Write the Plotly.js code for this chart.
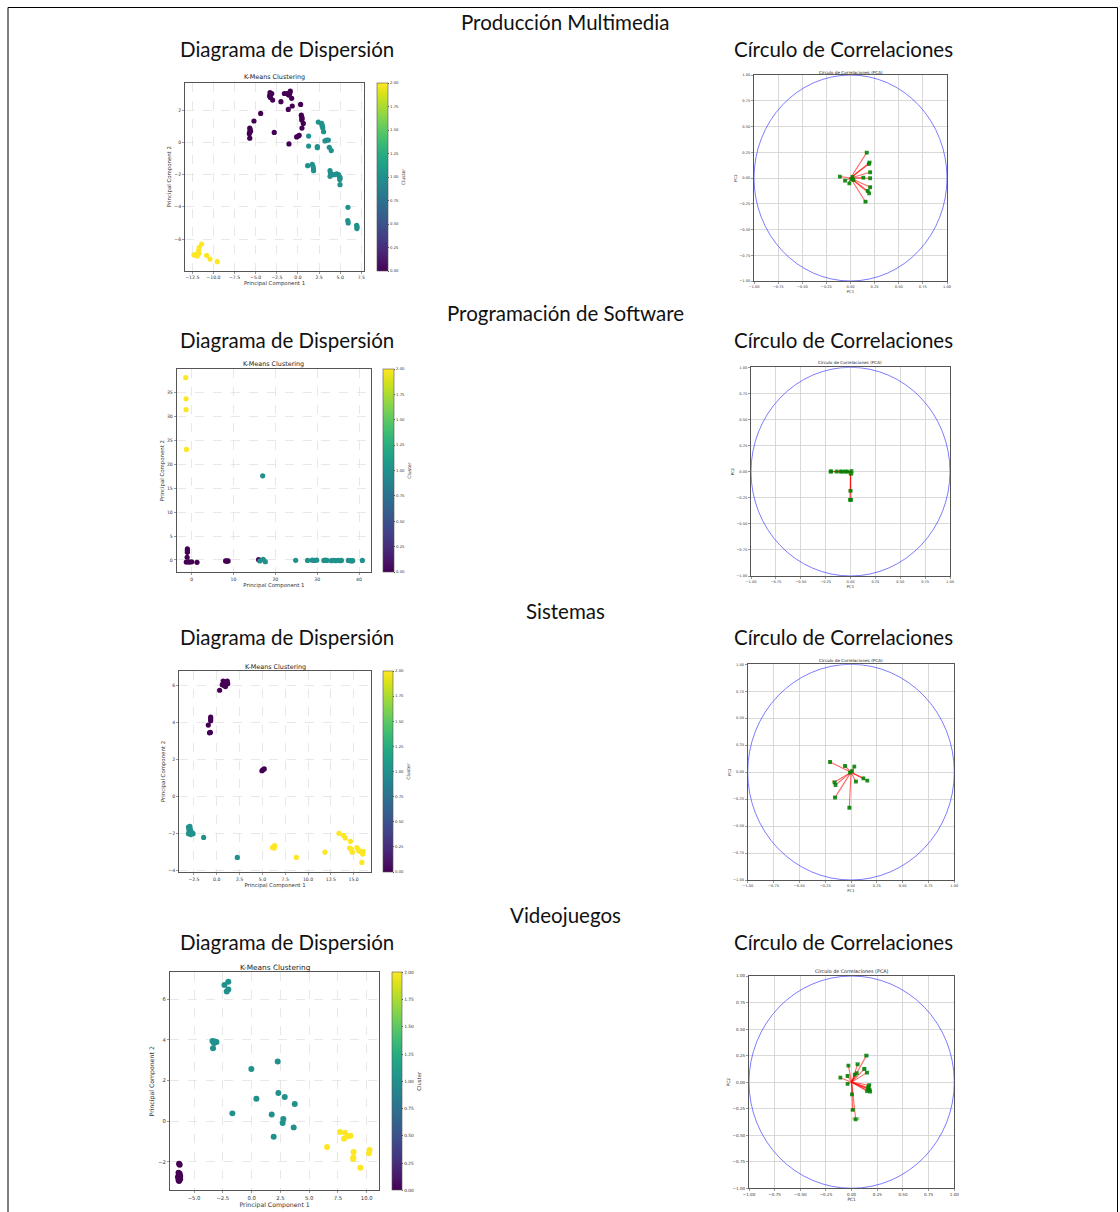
<!DOCTYPE html>
<html><head><meta charset="utf-8">
<script src="https://cdn.plot.ly/plotly-3.0.1.min.js"></script>
<style>html,body{margin:0;padding:0;background:#fff}#chart{width:1120px;height:1212px}</style>
</head><body><div id="chart"></div>
<script>
// ---------- DATA ----------
// Producción Multimedia - scatter (PC1, PC2, cluster)
const pm_x = [-3.3,-3.35,-3.2,-3.25,-3.1,-2.99,-2.01,-1.6,-1.3,-1.0,-0.9,-0.95,-1.1,-0.74,-0.67,-1.14,-4.41,-5.2,-5.7,-5.65,-5.7,-5.75,-5.6,-5.7,-2.8,-1.06,0.32,0.4,0.45,0.5,0.45,0.64,0.48,-0.15,0.05,0.15,
  2.41,2.8,2.85,2.9,2.95,3.04,1.27,3.2,3.4,3.6,3.71,3.95,1.27,2.3,2.3,1.15,1.7,1.8,1.85,1.85,3.8,3.85,3.8,4.0,4.3,4.6,4.8,4.9,5.0,4.95,4.98,5.92,5.9,5.95,6.95,7.0,6.98,
  -11.4,-11.67,-12.3,-12.1,-11.9,-11.7,-11.75,-10.8,-10.4,-9.54];
const pm_y = [3.1,2.9,3.0,2.8,3.05,2.64,2.54,3.05,3.05,3.0,3.2,3.1,2.95,2.75,2.27,2.06,1.81,1.34,0.9,0.8,0.65,0.55,0.7,0.27,0.63,-0.09,2.37,1.7,1.6,1.5,1.4,1.19,0.9,0.35,0.4,0.45,
  1.27,1.2,1.1,1.0,0.9,0.67,0.4,0.1,0.15,0.15,-0.3,-0.5,-0.22,-0.25,-0.32,-1.44,-1.35,-1.5,-1.65,-1.75,-1.75,-1.9,-2.1,-2.0,-2.0,-1.95,-2.0,-2.1,-2.2,-2.3,-2.62,-4.03,-4.85,-5.0,-5.15,-5.25,-5.35,
  -6.31,-6.52,-7.0,-6.95,-7.05,-6.9,-6.7,-7.02,-7.25,-7.41];
const pm_c = [0,0,0,0,0,0,0,0,0,0,0,0,0,0,0,0,0,0,0,0,0,0,0,0,0,0,0,0,0,0,0,0,0,0,0,0,
  1,1,1,1,1,1,1,1,1,1,1,1,1,1,1,1,1,1,1,1,1,1,1,1,1,1,1,1,1,1,1,1,1,1,1,1,1,
  2,2,2,2,2,2,2,2,2,2];
// Producción Multimedia - correlation circle loadings
const pm_pc1 = [0.168,0.196,0.19,0.203,0.133,0.203,0.203,0.179,0.193,0.155,-0.11,-0.057,-0.012,0.03,0.02,0.01];
const pm_pc2 = [0.246,0.149,0.136,0.055,0.003,-0.003,-0.09,-0.126,-0.149,-0.23,0.013,-0.026,-0.052,-0.02,0.01,-0.01];
const pm_lbl = ['12','14','','10','11','13','16','17','','19','1','6','8','3','',''];

// Programación de Software
const ps_x = [-1.04,-1.04,-1.04,-1.1,-1.3,-0.8,-0.5,0.0,1.27,8.1,8.4,8.7,16.0,
  16.97,16.3,17.1,17.6,24.86,27.7,28.8,29.3,29.9,31.6,32.0,32.35,33.4,33.9,34.4,35.0,35.5,35.8,37.45,37.9,38.25,38.5,40.8,
  -1.43,-1.35,-1.35,-1.27];
const ps_y = [2.3,1.95,1.6,0.56,-0.45,-0.4,-0.45,-0.4,-0.5,-0.2,-0.25,-0.2,0.05,
  17.57,-0.2,0.1,-0.35,-0.07,-0.1,-0.05,-0.1,-0.05,-0.1,-0.05,-0.1,-0.15,-0.1,-0.15,-0.1,-0.15,-0.1,-0.1,-0.15,-0.2,-0.15,-0.1,
  38.08,33.67,31.4,23.1];
const ps_c = [0,0,0,0,0,0,0,0,0,0,0,0,0,
  1,1,1,1,1,1,1,1,1,1,1,1,1,1,1,1,1,1,1,1,1,1,1,
  2,2,2,2];
const ps_pc1 = [-0.2,-0.195,-0.14,-0.1,-0.08,-0.05,-0.03,0.0,0.005,-0.005,0.01,0.005];
const ps_pc2 = [0.0,0.002,0.0,0.0,0.001,0.0,0.0,-0.185,-0.27,-0.27,0.005,-0.02];
const ps_lbl = ['3','','7','9','','13','','60','61','','1','112'];

// Sistemas
const si_x = [0.7,0.75,0.8,0.9,1.1,1.2,1.15,0.6,0.95,0.31,-0.93,-0.67,-0.67,-0.67,-0.8,-0.7,4.95,5.05,5.2,
  -3.1,-2.95,-3.05,-2.9,-3.1,-2.8,-2.7,-2.6,-2.85,-3.0,-1.44,2.25,
  6.1,6.25,6.35,6.3,8.72,11.86,13.39,13.87,14.09,14.64,14.55,14.75,14.85,15.35,15.5,15.6,15.9,16.0,15.95,16.05,15.9];
const si_y = [6.25,6.1,6.0,6.15,6.2,6.1,6.25,6.05,5.95,5.75,3.87,4.3,4.2,4.1,3.45,3.47,1.4,1.45,1.5,
  -1.65,-1.6,-1.8,-1.75,-2.0,-1.9,-1.95,-2.0,-2.05,-1.9,-2.2,-3.28,
  -2.75,-2.7,-2.65,-2.78,-3.28,-3.0,-1.98,-2.09,-2.23,-2.41,-2.78,-2.85,-3.0,-2.75,-2.85,-2.95,-2.97,-3.1,-3.05,-2.95,-3.55];
const si_c = [0,0,0,0,0,0,0,0,0,0,0,0,0,0,0,0,0,0,0,
  1,1,1,1,1,1,1,1,1,1,1,1,
  2,2,2,2,2,2,2,2,2,2,2,2,2,2,2,2,2,2,2,2,2];
const si_pc1 = [-0.203,-0.058,0.032,0.12,0.158,0.048,-0.16,-0.15,-0.155,-0.016,0.01,-0.01];
const si_pc2 = [0.094,0.057,0.051,-0.057,-0.079,-0.088,-0.094,-0.119,-0.236,-0.33,0.01,-0.005];
const si_lbl = ['31','58','4','2','1','21','50','','30','38','6',''];

// Videojuegos
const vj_x = [-6.3,-6.25,-6.35,-6.3,-6.4,-6.3,-6.2,-6.35,-6.25,-6.2,-6.3,
  -2.36,-2.02,-2.16,-2.02,-3.4,-3.3,-3.2,-3.05,-3.25,-3.35,2.27,-0.02,2.33,0.42,2.88,3.75,-1.67,1.75,2.76,2.7,3.66,1.92,
  6.56,7.68,8.12,8.03,8.4,8.6,8.87,8.84,8.84,9.45,10.2,10.25];
const vj_y = [-2.1,-2.15,-2.55,-2.65,-2.75,-2.8,-2.85,-2.9,-2.6,-2.7,-2.95,
  6.71,6.87,6.38,6.48,3.95,3.9,3.92,3.9,3.85,3.59,2.94,2.57,1.38,1.1,1.19,0.84,0.38,0.33,0.1,-0.09,-0.31,-0.77,
  -1.28,-0.54,-0.57,-0.87,-0.75,-0.72,-1.52,-1.79,-1.87,-2.3,-1.59,-1.42];
const vj_c = [0,0,0,0,0,0,0,0,0,0,0,
  1,1,1,1,1,1,1,1,1,1,1,1,1,1,1,1,1,1,1,1,1,1,
  2,2,2,2,2,2,2,2,2,2,2,2];
const vj_pc1 = [0.143,0.058,-0.032,-0.04,-0.11,0.123,0.149,0.03,0.05,0.17,0.165,0.15,0.18,0.003,0.01,0.039,-0.04,0.16,0.175];
const vj_pc2 = [0.25,0.168,0.155,0.058,0.042,0.124,0.09,0.07,0.085,-0.03,-0.065,-0.085,-0.09,-0.115,-0.262,-0.35,-0.017,-0.05,-0.07];
const vj_lbl = ['58','17','1','9','1','44','47','3','','20','','','','6','42','500','7','',''];

const sectionNames = ['Producción Multimedia','Programación de Software','Sistemas','Videojuegos'];
const leftHeading = 'Diagrama de Dispersión';
const rightHeading = 'Círculo de Correlaciones';
const scatterTitle = 'K-Means Clustering';
const circleTitle = 'Círculo de Correlaciones (PCA)';
const cbTicks = [0,0.25,0.5,0.75,1.0,1.25,1.5,1.75,2.0];

// ---------- LAYOUT GEOMETRY (pixels) ----------
const W=1120, H=1212;
const px = v => v/W, py = v => 1 - v/H;
const sections = [
  {name:sectionNames[0], data:[pm_x,pm_y,pm_c], load:[pm_pc1,pm_pc2,pm_lbl], headY:22, subY:49,
   sc:[185,82.7,364,270.7], cb:[377,83,388,271], ci:[754,75,947,281], scT:77, ciT:72,
   xr:[-13.36,7.82], yr:[-7.97,3.72], xd:2.5, x0:-12.5, yd:2, y0:-6, xf:'.1f', fs:1},
  {name:sectionNames[1], data:[ps_x,ps_y,ps_c], load:[ps_pc1,ps_pc2,ps_lbl], headY:313, subY:340,
   sc:[176.7,369,371,572.3], cb:[382.7,369,393.3,572.3], ci:[751,367.3,950,576], scT:364, ciT:362,
   xr:[-3.59,42.87], yr:[-2.58,39.9], xd:10, x0:0, yd:5, y0:0, xf:'', fs:1},
  {name:sectionNames[2], data:[si_x,si_y,si_c], load:[si_pc1,si_pc2,si_lbl], headY:611, subY:637,
   sc:[179,671,371,872], cb:[382.7,671,393,872], ci:[747.7,664.3,954.3,880], scT:667, ciT:660,
   xr:[-4.14,16.9], yr:[-4.07,6.79], xd:2.5, x0:-2.5, yd:2, y0:-4, xf:'.1f', fs:1},
  {name:sectionNames[3], data:[vj_x,vj_y,vj_c], load:[vj_pc1,vj_pc2,vj_lbl], headY:915, subY:942,
   sc:[170,972.3,379.3,1190.3], cb:[391.7,972.3,402,1190.3], ci:[749,976,954.3,1188.3], scT:967, ciT:971.5,
   xr:[-7.09,11.1], yr:[-3.41,7.33], xd:2.5, x0:-5, yd:2, y0:-2, xf:'.1f', fs:1.15}
];

const TF = 'DejaVu Sans, sans-serif';
const HF = 'Lato, sans-serif';
const traces = [];
const layout = {
  width:W, height:H, margin:{l:0,r:0,t:0,b:0}, showlegend:false,
  paper_bgcolor:'#ffffff', plot_bgcolor:'#ffffff',
  font:{family:TF, color:'#222'},
  annotations:[], shapes:[]
};

// outer frame
layout.shapes.push({type:'rect', xref:'paper', yref:'paper', x0:px(8), x1:px(1117.5), y0:-0.05, y1:py(7.5),
  line:{color:'#000', width:1}, fillcolor:'rgba(0,0,0,0)', layer:'above'});

sections.forEach((s,i) => {
  const xs = 2*i+1, xc = 2*i+2;
  const xsN = xs===1 ? 'xaxis' : 'xaxis'+xs, ysN = xs===1 ? 'yaxis' : 'yaxis'+xs;
  const xsR = xs===1 ? 'x' : 'x'+xs, ysR = xs===1 ? 'y' : 'y'+xs;
  const xcN = 'xaxis'+xc, ycN = 'yaxis'+xc, xcR = 'x'+xc, ycR = 'y'+xc;
  const f = s.fs;

  // headings
  const hfont = {family:HF, size:20.5, color:'#111'};
  layout.annotations.push({text:s.name, xref:'paper', yref:'paper', x:px(565), y:py(s.headY), xanchor:'center', yanchor:'middle',
    showarrow:false, font:hfont});
  layout.annotations.push({text:leftHeading, xref:'paper', yref:'paper', x:px(287), y:py(s.subY), xanchor:'center', yanchor:'middle',
    showarrow:false, font:hfont});
  layout.annotations.push({text:rightHeading, xref:'paper', yref:'paper', x:px(843), y:py(s.subY), xanchor:'center', yanchor:'middle',
    showarrow:false, font:hfont});

  // scatter axes
  const tickFont = {family:TF, size:4.6*f, color:'#333'};
  layout[xsN] = {domain:[px(s.sc[0]), px(s.sc[2])], range:s.xr, anchor:ysR, dtick:s.xd, tick0:s.x0, tickformat:s.xf,
    showgrid:true, gridcolor:'#d9d9d9', griddash:'dash', gridwidth:0.6, zeroline:false,
    showline:true, mirror:true, linecolor:'#555', linewidth:1, ticks:'outside', ticklen:2, tickcolor:'#555', tickwidth:0.6,
    tickfont:tickFont, title:{text:'Principal Component 1', font:{family:TF, size:5.4*f, color:'#333'}, standoff:2}};
  layout[ysN] = {domain:[py(s.sc[3]), py(s.sc[1])], range:s.yr, anchor:xsR, dtick:s.yd, tick0:s.y0,
    showgrid:true, gridcolor:'#d9d9d9', griddash:'dash', gridwidth:0.6, zeroline:false,
    showline:true, mirror:true, linecolor:'#555', linewidth:1, ticks:'outside', ticklen:2, tickcolor:'#555', tickwidth:0.6,
    tickfont:tickFont, title:{text:'Principal Component 2', font:{family:TF, size:5.4*f, color:'#333'}, standoff:2}};
  layout.annotations.push({text:scatterTitle, xref:'paper', yref:'paper', x:(px(s.sc[0])+px(s.sc[2]))/2, y:py(s.scT),
    xanchor:'center', yanchor:'middle', showarrow:false, font:{family:TF, size:6.4*f, color:'#222'}});

  traces.push({type:'scatter', mode:'markers', x:s.data[0], y:s.data[1], xaxis:xsR, yaxis:ysR,
    marker:{color:s.data[2], colorscale:'Viridis', cmin:0, cmax:2, size:5.2*f, line:{width:0},
      colorbar:{thickness:s.cb[2]-s.cb[0], thicknessmode:'pixels', len:s.cb[3]-s.cb[1], lenmode:'pixels',
        x:px(s.cb[0]), xanchor:'left', y:py(s.cb[1]), yanchor:'top', xpad:0, ypad:0,
        outlinecolor:'#555', outlinewidth:0.6, tickvals:cbTicks, tickformat:'.2f', ticks:'outside', ticklen:1.5,
        tickcolor:'#555', tickfont:{family:TF, size:3.8*f, color:'#333'},
        title:{text:'Cluster', side:'right', font:{family:TF, size:4.6*f, color:'#333'}}}},
    hoverinfo:'skip'});

  // circle axes
  const cFont = {family:TF, size:3.6*f, color:'#333'};
  layout[xcN] = {domain:[px(s.ci[0]), px(s.ci[2])], range:[-1,1], anchor:ycR, dtick:0.25, tick0:-1, tickformat:'.2f',
    showgrid:true, gridcolor:'#d0d0d0', gridwidth:0.8, zeroline:false, showline:true, mirror:true, linecolor:'#555', linewidth:1,
    ticks:'outside', ticklen:2, tickcolor:'#555', tickwidth:0.6, tickfont:cFont,
    title:{text:'PC1', font:{family:TF, size:3.8*f, color:'#333'}, standoff:1}};
  layout[ycN] = {domain:[py(s.ci[3]), py(s.ci[1])], range:[-1,1], anchor:xcR, dtick:0.25, tick0:-1, tickformat:'.2f',
    showgrid:true, gridcolor:'#d0d0d0', gridwidth:0.8, zeroline:false, showline:true, mirror:true, linecolor:'#555', linewidth:1,
    ticks:'outside', ticklen:2, tickcolor:'#555', tickwidth:0.6, tickfont:cFont,
    title:{text:'PC2', font:{family:TF, size:3.8*f, color:'#333'}, standoff:1}};
  layout.annotations.push({text:circleTitle, xref:'paper', yref:'paper', x:(px(s.ci[0])+px(s.ci[2]))/2, y:py(s.ciT),
    xanchor:'center', yanchor:'middle', showarrow:false, font:{family:TF, size:4.2*f, color:'#222'}});
  // unit circle
  layout.shapes.push({type:'circle', xref:xcR, yref:ycR, x0:-1, x1:1, y0:-1, y1:1,
    line:{color:'rgba(60,60,255,0.75)', width:0.9}, fillcolor:'rgba(0,0,0,0)'});

  // loading arrows
  const lx=[], ly=[];
  s.load[0].forEach((v,k)=>{ lx.push(0, v, null); ly.push(0, s.load[1][k], null); });
  traces.push({type:'scatter', mode:'lines', x:lx, y:ly, xaxis:xcR, yaxis:ycR,
    line:{color:'rgba(255,0,0,0.6)', width:1.1}, hoverinfo:'skip'});
  traces.push({type:'scatter', mode:'markers+text', x:s.load[0], y:s.load[1], text:s.load[2], xaxis:xcR, yaxis:ycR,
    textposition:'middle center', textfont:{family:TF, size:3.4*f, color:'green'},
    marker:{symbol:'square', size:3.8, color:'rgba(0,128,0,0.85)'}, hoverinfo:'skip'});
});

Plotly.newPlot('chart', traces, layout, {staticPlot:true, displayModeBar:false});
</script>
</body></html>
